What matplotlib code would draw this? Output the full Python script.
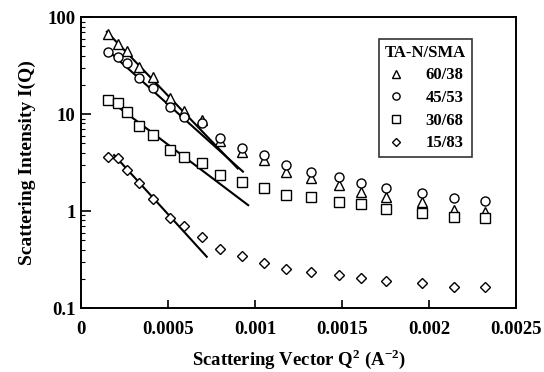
import numpy as np
import matplotlib
matplotlib.use("Agg")
import matplotlib.pyplot as plt
from matplotlib.ticker import LogLocator, FixedLocator, FixedFormatter, NullFormatter

# Q^2 values (A^-2) shared by all samples
q2 = [0.000155, 0.00021, 0.000265, 0.000335, 0.000415, 0.00051, 0.00059,
      0.000695, 0.0008, 0.000925, 0.00105, 0.00118, 0.00132, 0.00148,
      0.00161, 0.00175, 0.00196, 0.00214, 0.00232]

i_60_38 = [66.8, 52.7, 45.0, 30.8, 23.9, 14.5, 10.8, 8.67, 5.3, 4.08, 3.36,
           2.54, 2.17, 1.85, 1.58, 1.40, 1.25, 1.02, 0.98]
i_45_53 = [43.9, 39.0, 33.3, 23.3, 18.4, 11.9, 9.4, 8.0, 5.6, 4.43, 3.78,
           2.98, 2.54, 2.26, 1.93, 1.71, 1.52, 1.35, 1.28]
i_30_68 = [13.9, 12.9, 10.6, 7.5, 6.08, 4.26, 3.58, 3.10, 2.35, 2.00, 1.71,
           1.46, 1.38, 1.23, 1.17, 1.04, 0.95, 0.87, 0.84]
i_15_83 = [3.63, 3.49, 2.63, 1.95, 1.33, 0.85, 0.70, 0.54, 0.41, 0.34, 0.29,
           0.25, 0.233, 0.219, 0.202, 0.19, 0.18, 0.163, 0.163]

# Guinier fit lines: (q2 start, q2 end), (I start, I end)
fit_60_38 = ([0.000148, 0.00090], [70.5, 2.75])
fit_45_53 = ([0.000148, 0.00093], [46.4, 2.55])
fit_30_68 = ([0.000148, 0.00096], [14.5, 1.15])
fit_15_83 = ([0.00019, 0.000722], [3.78, 0.338])

labels = ["60/38", "45/53", "30/68", "15/83"]
markers = ["^", "o", "s", "D"]
sizes = [6.5, 6.5, 6.5, 5]

plt.rcParams['font.family'] = ['Liberation Serif', 'DejaVu Serif']
plt.rcParams['font.weight'] = 'bold'
plt.rcParams['mathtext.fontset'] = 'custom'
plt.rcParams['mathtext.rm'] = 'Liberation Serif:bold'
plt.rcParams['mathtext.bf'] = 'Liberation Serif:bold'

fig = plt.figure(figsize=(5.44, 3.72), dpi=100)
ax = fig.add_axes([0.149, 0.172, 0.8, 0.782])

series = [i_60_38, i_45_53, i_30_68, i_15_83]
fits = [fit_60_38, fit_45_53, fit_30_68, fit_15_83]
for vals, fit, lab, m, s in zip(series, fits, labels, markers, sizes):
    ax.plot(fit[0], fit[1], color='black', lw=1.5, zorder=2)
    ax.plot(q2, vals, linestyle='none', marker=m, markersize=s,
            markerfacecolor='white', markeredgecolor='black',
            markeredgewidth=1.0, label=lab, zorder=3)

ax.set_yscale('log')
ax.set_xlim(0, 0.0025)
ax.set_ylim(0.1, 100)

xt = [0, 0.0005, 0.001, 0.0015, 0.002, 0.0025]
ax.xaxis.set_major_locator(FixedLocator(xt))
ax.xaxis.set_major_formatter(FixedFormatter(["0", "0.0005", "0.001", "0.0015", "0.002", "0.0025"]))
ax.yaxis.set_major_locator(FixedLocator([0.1, 1, 10, 100]))
ax.yaxis.set_major_formatter(FixedFormatter(["0.1", "1", "10", "100"]))
ax.yaxis.set_minor_locator(LogLocator(base=10, subs=np.arange(2, 10)))
ax.yaxis.set_minor_formatter(NullFormatter())

ax.tick_params(axis='x', direction='in', length=6, width=1.2, pad=9, labelsize=13.5)
ax.tick_params(axis='y', which='major', direction='in', length=7, width=1.2, pad=4, labelsize=13.5)
ax.tick_params(axis='y', which='minor', direction='in', length=3, width=0.8)
for sp in ax.spines.values():
    sp.set_linewidth(1.4)

ax.set_xlabel(r"Scattering Vector Q$^{2}$ (A$^{-2}$)", fontsize=13.5, fontweight='bold', labelpad=7)
ax.set_ylabel("Scattering Intensity I(Q)", fontsize=14, fontweight='bold', labelpad=8)

leg = ax.legend(title="TA-N/SMA", loc='upper left', bbox_to_anchor=(0.685, 0.925),
                borderaxespad=0, frameon=True, fancybox=False, edgecolor='black',
                fontsize=12, title_fontsize=12, handletextpad=1.3, handlelength=1.0,
                borderpad=0.35, labelspacing=0.4, markerscale=0.8)
leg.get_frame().set_linewidth(1.2)
leg.get_title().set_fontweight('bold')

fig.savefig("out.png", dpi=100)
